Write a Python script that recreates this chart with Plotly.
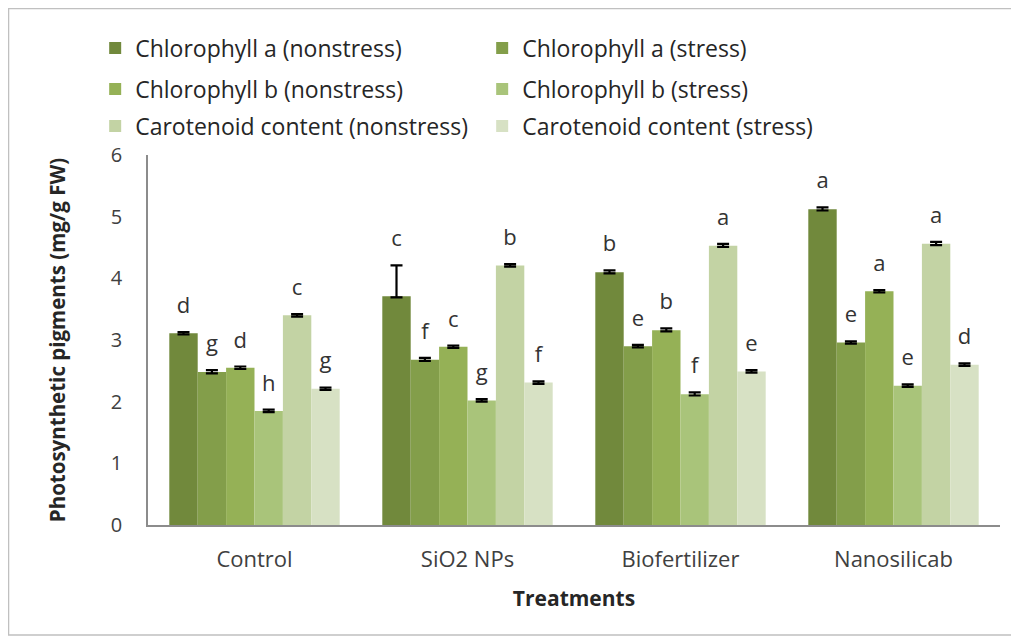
import plotly.graph_objects as go

FONT = "'Open Sans', Arial, sans-serif"
TEXT = "#404040"

treatments = ["Control", "SiO2 NPs", "Biofertilizer", "Nanosilicab"]

series_names = [
    "Chlorophyll a (nonstress)",
    "Chlorophyll a (stress)",
    "Chlorophyll b (nonstress)",
    "Chlorophyll b (stress)",
    "Carotenoid content (nonstress)",
    "Carotenoid content (stress)",
]
colors = ["#71893c", "#839e4a", "#95b156", "#a9c47a", "#c3d3a4", "#d7e1c4"]

chl_a_ns = [3.11, 3.71, 4.10, 5.12]
chl_a_s = [2.48, 2.68, 2.90, 2.96]
chl_b_ns = [2.55, 2.89, 3.16, 3.79]
chl_b_s = [1.85, 2.02, 2.12, 2.26]
car_ns = [3.40, 4.21, 4.53, 4.56]
car_s = [2.21, 2.31, 2.49, 2.60]

err_chl_a_ns = [0.02, 0.50, 0.03, 0.03]
err_chl_a_s = [0.03, 0.03, 0.02, 0.02]
err_chl_b_ns = [0.02, 0.02, 0.03, 0.02]
err_chl_b_s = [0.02, 0.02, 0.03, 0.02]
err_car_ns = [0.02, 0.02, 0.03, 0.03]
err_car_s = [0.02, 0.02, 0.02, 0.02]

let_chl_a_ns = ["d", "c", "b", "a"]
let_chl_a_s = ["g", "f", "e", "e"]
let_chl_b_ns = ["d", "c", "b", "a"]
let_chl_b_s = ["h", "g", "f", "e"]
let_car_ns = ["c", "b", "a", "a"]
let_car_s = ["g", "f", "e", "d"]

values = [chl_a_ns, chl_a_s, chl_b_ns, chl_b_s, car_ns, car_s]
errors = [err_chl_a_ns, err_chl_a_s, err_chl_b_ns, err_chl_b_s, err_car_ns, err_car_s]
letters = [let_chl_a_ns, let_chl_a_s, let_chl_b_ns, let_chl_b_s, let_car_ns, let_car_s]

legend_ids = ["legend", "legend", "legend2", "legend2", "legend3", "legend3"]

fig = go.Figure()
for i, name in enumerate(series_names):
    minus = [min(e, 0.02) for e in errors[i]]
    fig.add_trace(go.Bar(
        x=treatments, y=values[i], name=name,
        marker=dict(color=colors[i], line=dict(width=0)),
        offsetgroup=str(i), alignmentgroup="g",
        error_y=dict(type="data", array=errors[i], arrayminus=minus,
                     color="black", thickness=2.2, width=6),
        legend=legend_ids[i],
    ))
for i, name in enumerate(series_names):
    tops = [v + e for v, e in zip(values[i], errors[i])]
    fig.add_trace(go.Scatter(
        x=treatments, y=tops, text=letters[i], mode="markers+text",
        marker=dict(size=20, opacity=0), textposition="top center",
        textfont=dict(size=22, color="#333333", family=FONT),
        offsetgroup=str(i), alignmentgroup="g",
        showlegend=False, hoverinfo="skip", cliponaxis=False,
    ))

leg = dict(orientation="h", entrywidth=342, entrywidthmode="pixels",
           x=-0.062, xanchor="left", yanchor="middle",
           font=dict(size=23, color="#262626", family=FONT),
           bgcolor="rgba(0,0,0,0)", itemclick=False)

# page body adds 8px offset, so the figure is 8px smaller than the window
fig.update_layout(
    width=1011, height=629,
    paper_bgcolor="white", plot_bgcolor="white",
    margin=dict(l=140, r=19, t=147, b=112, autoexpand=False),
    barmode="group", bargap=0.2, bargroupgap=0,
    scattermode="group", scattergap=0.2,
    font=dict(family=FONT, color=TEXT, size=20),
    legend=dict(leg, y=1.289),
    legend2=dict(leg, y=1.178),
    legend3=dict(leg, y=1.078),
    shapes=[dict(type="rect", xref="paper", yref="paper",
                 x0=-0.1637, x1=1.0188, y0=-0.297, y1=1.396,
                 line=dict(color="#c0c0c0", width=1.5))],
)
fig.update_xaxes(showline=True, linecolor="#8c8c8c", linewidth=1.5,
                 ticks="", showgrid=False, automargin=False,
                 ticklabelstandoff=14,
                 tickfont=dict(size=22, color=TEXT),
                 title=dict(text="<b>Treatments</b>", standoff=19,
                            font=dict(size=21, color="#262626")))
fig.update_yaxes(range=[0, 6], dtick=1, showline=True, linecolor="#8c8c8c",
                 linewidth=1.5, ticks="", showgrid=False, zeroline=False,
                 automargin=False, ticklabelstandoff=20,
                 tickfont=dict(size=20, color=TEXT),
                 title=dict(text="<b>Photosynthetic pigments (mg/g FW)</b>",
                            standoff=40, font=dict(size=20.5, color="#262626")))

fig.write_html("out.html")
